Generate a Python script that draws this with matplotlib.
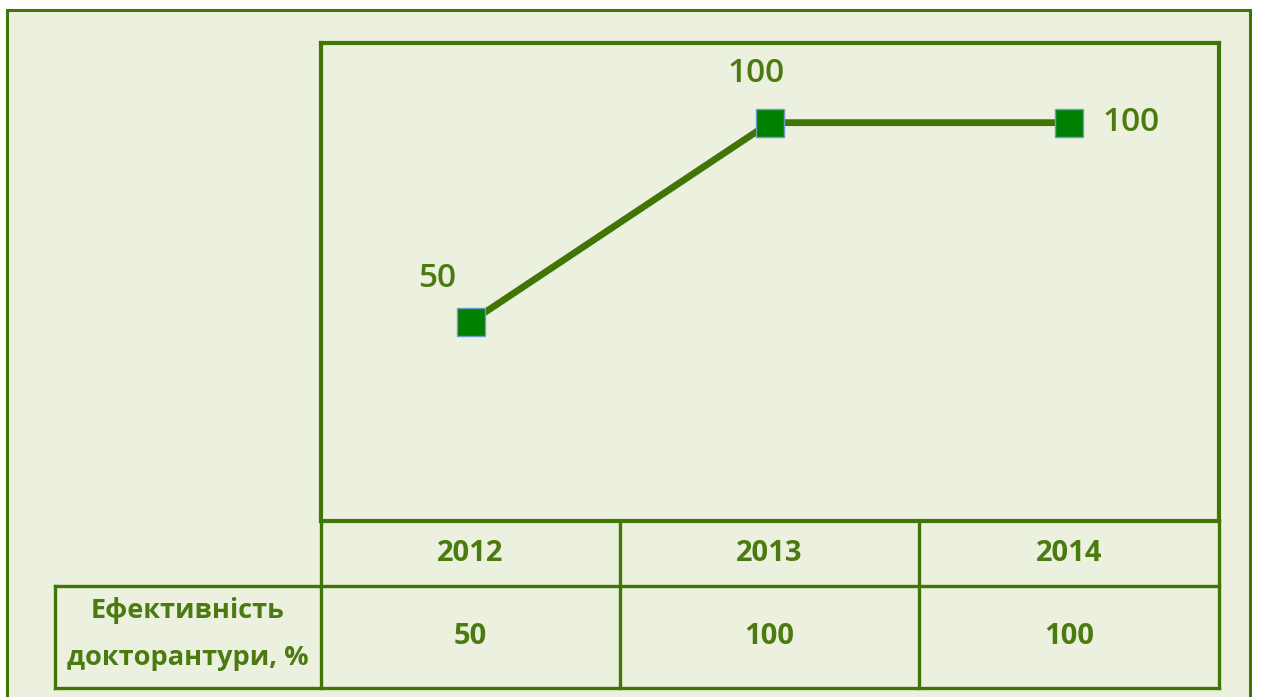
import matplotlib
matplotlib.use('Agg')
import matplotlib.pyplot as plt
from matplotlib.lines import Line2D
from matplotlib.patches import Rectangle

plt.rcParams['font.family'] = ['Open Sans', 'DejaVu Sans']

years = ['2012', '2013', '2014']
values = [50, 100, 100]
row_label = ['Ефективність', 'докторантури, %']
# label offsets (pixels) from each point
label_offsets = [(-34, 43), (-14, 49), (62, 0)]

W, H = 1264, 697
BG = '#EBF1DE'
DARK = '#417505'
TEXT = '#4A7A10'


def fx(x):
    return x / W


def fy(y):
    return 1 - y / H


fig = plt.figure(figsize=(W / 100, H / 100), dpi=100, facecolor='white')

# outer panel
fig.add_artist(Rectangle((fx(7), fy(720)), fx(1250) - fx(7), fy(10) - fy(720),
                         transform=fig.transFigure, facecolor=BG,
                         edgecolor=DARK, linewidth=2.2, zorder=0))

ax = fig.add_axes([fx(321), fy(521), fx(1219) - fx(321), fy(43) - fy(521)])
ax.set_facecolor(BG)
x = list(range(len(years)))
ax.plot(x, values, color=DARK, linewidth=4.9, marker='s', markersize=20,
        markerfacecolor='#008000', markeredgecolor='#6E9BC8', markeredgewidth=1.0,
        solid_joinstyle='miter')
for xi, v, (dx, dy) in zip(x, values, label_offsets):
    ax.annotate(str(v), (xi, v), xytext=(dx, dy), textcoords='offset pixels',
                ha='center', va='center', fontsize=24, fontweight='semibold',
                color=TEXT)
ax.set_xlim(-0.5, 2.5)
ax.set_ylim(0, 120)
ax.set_xticks([])
ax.set_yticks([])
for s in ax.spines.values():
    s.set_color(DARK)
    s.set_linewidth(3.0)

# table below the chart
cols = [321, 620, 919, 1219]
y_top, y_mid, y_bot = 521, 586, 688
left = 55


def seg(x0, y0, x1, y1, lw=2.4):
    fig.add_artist(Line2D([fx(x0), fx(x1)], [fy(y0), fy(y1)],
                          transform=fig.transFigure, color=DARK,
                          linewidth=lw, solid_capstyle='projecting'))


for c in cols:
    seg(c, y_top, c, y_bot)
seg(left, y_mid, left, y_bot)
seg(left, y_mid, cols[-1], y_mid)
seg(left, y_bot, cols[-1], y_bot)

for i, (yr, v) in enumerate(zip(years, values)):
    cx = (cols[i] + cols[i + 1]) / 2
    fig.text(fx(cx), fy((y_top + y_mid) / 2), yr, ha='center', va='center',
             fontsize=21, fontweight='bold', color=TEXT)
    fig.text(fx(cx), fy((y_mid + y_bot) / 2), str(v), ha='center', va='center',
             fontsize=21, fontweight='bold', color=TEXT)
for line, ly in zip(row_label, [611, 658]):
    fig.text(fx((left + cols[0]) / 2), fy(ly), line, ha='center', va='center',
             fontsize=19.5, fontweight='bold', color=TEXT)

fig.savefig('out.png', dpi=100, facecolor='white')
